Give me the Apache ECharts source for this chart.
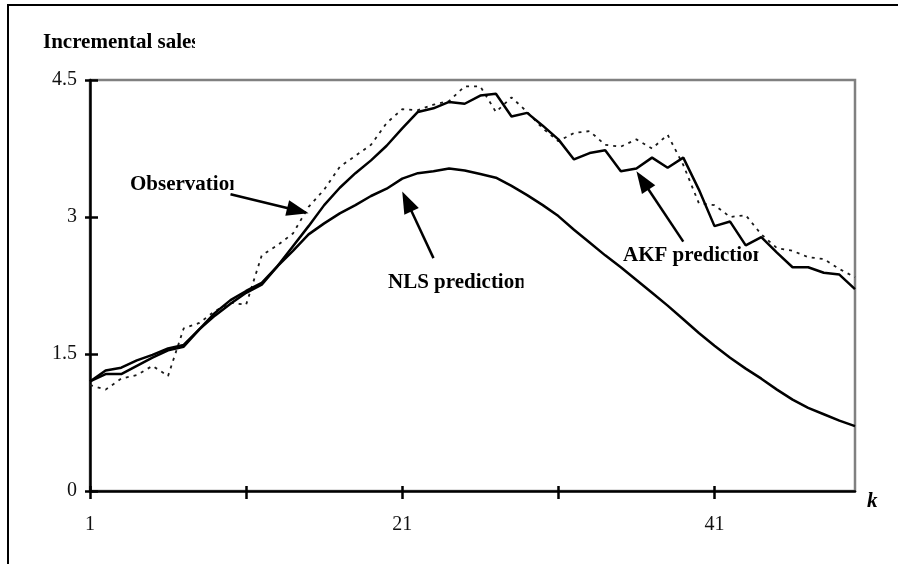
<!DOCTYPE html>
<html>
<head>
<meta charset="utf-8">
<script src="https://cdn.jsdelivr.net/npm/echarts@6/dist/echarts.min.js"></script>
<style>
  html, body { margin: 0; padding: 0; background: #fff; }
  #chart { width: 898px; height: 564px; }
</style>
</head>
<body>
<div id="chart"></div>
<script>
// Time index k
const periods = ['1','2','3','4','5','6','7','8','9','10',
  '11','12','13','14','15','16','17','18','19','20',
  '21','22','23','24','25','26','27','28','29','30',
  '31','32','33','34','35','36','37','38','39','40',
  '41','42','43','44','45','46','47','48','49','50'];

// Observed incremental sales
const observations = [1.16, 1.11, 1.23, 1.27, 1.37, 1.26, 1.78, 1.84, 1.97, 2.06,
  2.04, 2.58, 2.69, 2.82, 3.11, 3.30, 3.55, 3.67, 3.79, 4.03,
  4.18, 4.17, 4.23, 4.27, 4.43, 4.43, 4.15, 4.31, 4.15, 3.97,
  3.83, 3.92, 3.94, 3.79, 3.77, 3.85, 3.75, 3.90, 3.57, 3.15,
  3.13, 3.00, 3.02, 2.81, 2.66, 2.63, 2.56, 2.54, 2.43, 2.34];

// Adaptive Kalman filter prediction
const akfPrediction = [1.20, 1.28, 1.28, 1.37, 1.46, 1.54, 1.58, 1.77, 1.95, 2.09,
  2.19, 2.28, 2.46, 2.68, 2.90, 3.13, 3.32, 3.48, 3.62, 3.78,
  3.97, 4.15, 4.19, 4.26, 4.24, 4.33, 4.35, 4.10, 4.14, 4.00,
  3.85, 3.63, 3.70, 3.73, 3.50, 3.53, 3.65, 3.54, 3.65, 3.30,
  2.90, 2.95, 2.69, 2.78, 2.61, 2.45, 2.45, 2.39, 2.37, 2.21];

// Nonlinear least squares prediction
const nlsPrediction = [1.20, 1.32, 1.35, 1.43, 1.49, 1.56, 1.60, 1.77, 1.92, 2.05,
  2.17, 2.26, 2.46, 2.63, 2.81, 2.93, 3.04, 3.13, 3.23, 3.31,
  3.42, 3.48, 3.50, 3.53, 3.51, 3.47, 3.43, 3.34, 3.24, 3.13,
  3.01, 2.86, 2.72, 2.58, 2.45, 2.31, 2.17, 2.03, 1.88, 1.73,
  1.59, 1.46, 1.34, 1.23, 1.11, 1.00, 0.91, 0.84, 0.77, 0.71];

const xTickPeriods = ['1', '11', '21', '31', '41'];
const xLabelPeriods = ['1', '21', '41'];
const yTicks = [0, 1.5, 3, 4.5];

const SERIF = "'Liberation Serif', 'Times New Roman', serif";

const chart = echarts.init(document.getElementById('chart'), null, { renderer: 'canvas' });

const gridBox = { left: 90, top: 80, right: 43, bottom: 73 };

const yMain = {
  type: 'value',
  position: 'left',
  min: yTicks[0],
  max: yTicks[yTicks.length - 1],
  interval: yTicks[1] - yTicks[0],
  splitLine: { show: false },
  axisLine: { show: true, lineStyle: { color: '#000', width: 2.5 } },
  axisTick: { show: true, inside: true, length: 8, lineStyle: { color: '#000', width: 2.5 } },
  axisLabel: { margin: 13, color: '#111', fontFamily: SERIF, fontSize: 20 }
};
const yOuterTicks = {
  type: 'value',
  position: 'left',
  min: yTicks[0],
  max: yTicks[yTicks.length - 1],
  interval: yTicks[1] - yTicks[0],
  splitLine: { show: false },
  axisLine: { show: false },
  axisTick: { show: true, inside: false, length: 5, lineStyle: { color: '#000', width: 2.5 } },
  axisLabel: { show: false }
};

const xMain = {
  type: 'category',
  position: 'bottom',
  data: periods,
  boundaryGap: false,
  name: 'k',
  nameLocation: 'end',
  nameGap: 12,
  nameTextStyle: { fontFamily: SERIF, fontSize: 21, fontWeight: 'bold', fontStyle: 'italic', color: '#000', verticalAlign: 'top' },
  axisLine: { show: true, lineStyle: { color: '#000', width: 2.5 } },
  axisTick: { show: true, inside: false, length: 8, alignWithLabel: true,
    interval: (i, v) => xTickPeriods.includes(v), lineStyle: { color: '#000', width: 2.5 } },
  axisLabel: { margin: 24, color: '#111', fontFamily: SERIF, fontSize: 20,
    interval: (i, v) => xLabelPeriods.includes(v) },
  splitLine: { show: false }
};
const xInnerTicks = {
  type: 'category',
  position: 'bottom',
  data: periods,
  boundaryGap: false,
  axisLine: { show: false },
  axisTick: { show: true, inside: true, length: 5,
    interval: (i, v) => xTickPeriods.includes(v), lineStyle: { color: '#000', width: 2.5 } },
  axisLabel: { show: false },
  splitLine: { show: false }
};

const lineBase = { type: 'line', showSymbol: false, symbol: 'none', animation: false, silent: true };

chart.setOption({
  animation: false,
  backgroundColor: '#fff',
  grid: Object.assign({ show: true, borderColor: '#808080', borderWidth: 2.5,
    backgroundColor: 'transparent', containLabel: false, outerBoundsMode: 'none' }, gridBox),
  xAxis: [xMain, xInnerTicks],
  yAxis: [yMain, yOuterTicks],
  series: [
    Object.assign({}, lineBase, { name: 'Observations', data: observations, z: 3,
      lineStyle: { color: '#1a1a1a', width: 1.8, type: [3, 5] } }),
    Object.assign({}, lineBase, { name: 'AKF prediction', data: akfPrediction, z: 4,
      lineStyle: { color: '#000', width: 2.5 } }),
    Object.assign({}, lineBase, { name: 'NLS prediction', data: nlsPrediction, z: 4,
      lineStyle: { color: '#000', width: 2.5 } })
  ]
});

// Callout labels (text cut off at the right edge of their boxes)
const labelFont = { fontFamily: SERIF, fontSize: 21, fontWeight: 'bold', fill: '#000' };
const callouts = [
  { text: 'Incremental sales', x: 43, y: 43, cut: 195 },
  { text: 'Observation', x: 130, y: 185, cut: 233.5 },
  { text: 'NLS prediction', x: 388, y: 283, cut: 523.5 },
  { text: 'AKF prediction', x: 623, y: 256, cut: 758.5 }
];

// Arrows pointing at the curves, given in (k, value) coordinates
const arrows = [
  { from: [10.4, 3.25], to: [14.76, 3.04] },
  { from: [23.03, 2.55], to: [20.53, 3.28] },
  { from: [38.76, 2.73], to: [36.07, 3.50] }
];

const graphics = [
  { type: 'rect', z: 0, shape: { x: 8, y: 5, width: 900, height: 600 },
    style: { fill: 'none', stroke: '#000', lineWidth: 2 } }
];
callouts.forEach(c => {
  graphics.push({ type: 'text', z: 1, x: c.x, y: c.y,
    style: Object.assign({ text: c.text, verticalAlign: 'middle', align: 'left' }, labelFont) });
  graphics.push({ type: 'rect', z: 1, shape: { x: c.cut, y: c.y - 16, width: 14, height: 32 },
    style: { fill: '#fff' } });
});

const HEAD_LEN = 22, HEAD_HALF = 8;
arrows.forEach(a => {
  const p0 = chart.convertToPixel({ xAxisIndex: 0, yAxisIndex: 0 }, [a.from[0] - 1, a.from[1]]);
  const p1 = chart.convertToPixel({ xAxisIndex: 0, yAxisIndex: 0 }, [a.to[0] - 1, a.to[1]]);
  const dx = p1[0] - p0[0], dy = p1[1] - p0[1];
  const len = Math.sqrt(dx * dx + dy * dy);
  const ux = dx / len, uy = dy / len;
  const bx = p1[0] - ux * HEAD_LEN, by = p1[1] - uy * HEAD_LEN;
  graphics.push({ type: 'line', z: 5, shape: { x1: p0[0], y1: p0[1], x2: bx + ux * 2, y2: by + uy * 2 },
    style: { stroke: '#000', lineWidth: 2.5 } });
  graphics.push({ type: 'polygon', z: 5, shape: { points: [
      [p1[0], p1[1]],
      [bx - uy * HEAD_HALF, by + ux * HEAD_HALF],
      [bx + uy * HEAD_HALF, by - ux * HEAD_HALF]
    ] }, style: { fill: '#000' } });
});

chart.setOption({ graphic: { elements: graphics } });
</script>
</body>
</html>
